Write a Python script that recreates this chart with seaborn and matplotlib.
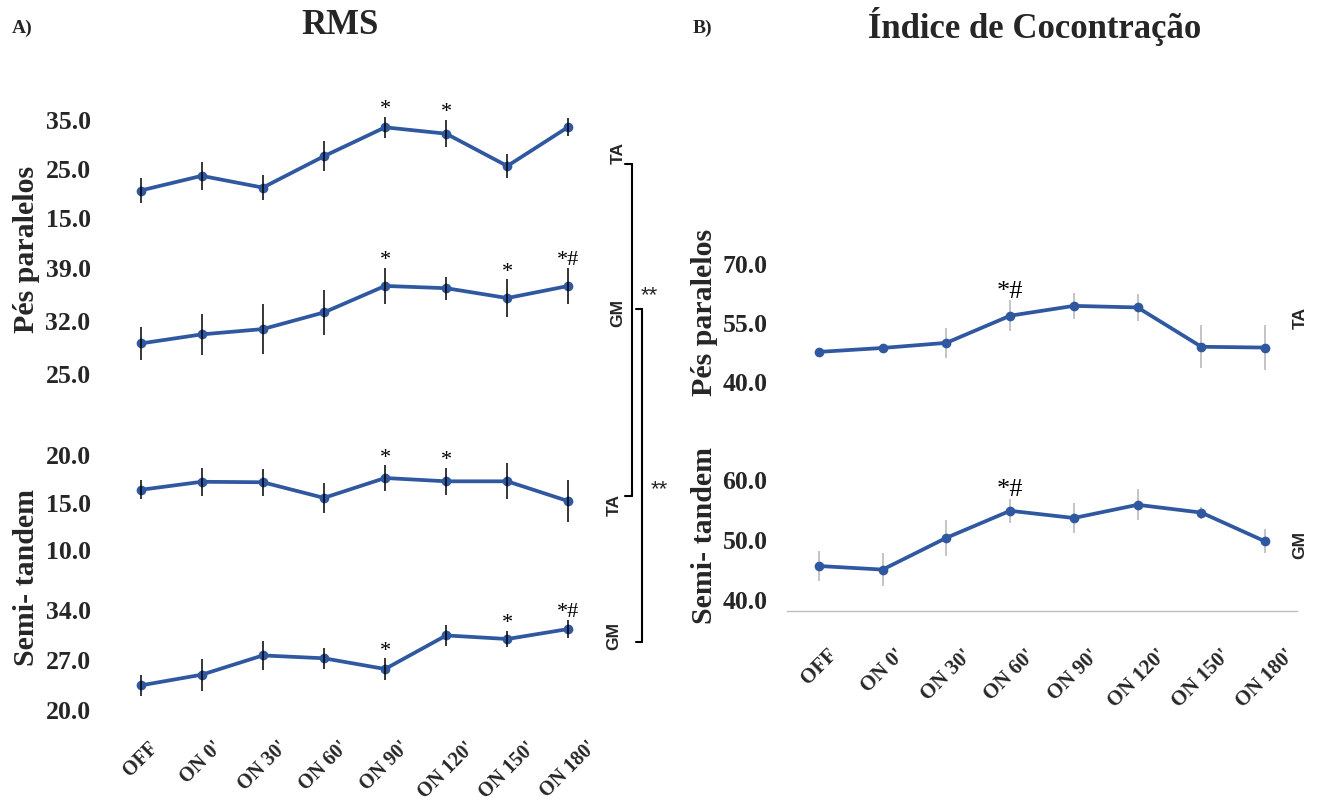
import numpy as np
import pandas as pd
import matplotlib
matplotlib.use("Agg")
import matplotlib.pyplot as plt
from matplotlib.lines import Line2D
import seaborn as sns

# ---------------- data ----------------
categories = ["OFF", "ON 0'", "ON 30'", "ON 60'", "ON 90'", "ON 120'", "ON 150'", "ON 180'"]

rms_pp_ta = [20.4, 23.4, 21.0, 27.4, 33.3, 32.0, 25.4, 33.4]
rms_pp_ta_err = [2.6, 2.8, 2.5, 3.1, 2.2, 2.8, 2.5, 1.9]
rms_pp_ta_marks = ["", "", "", "", "*", "*", "", ""]
rms_pp_ta_ticks = [15.0, 25.0, 35.0]

rms_pp_gm = [28.9, 30.1, 30.8, 33.0, 36.5, 36.2, 34.9, 36.5]
rms_pp_gm_err = [2.2, 2.7, 3.3, 3.0, 2.4, 1.5, 2.5, 2.4]
rms_pp_gm_marks = ["", "", "", "", "*", "", "*", "*#"]
rms_pp_gm_ticks = [25.0, 32.0, 39.0]

rms_st_ta = [16.25, 17.1, 17.05, 15.4, 17.5, 17.15, 17.15, 15.05]
rms_st_ta_err = [1.0, 1.45, 1.45, 1.6, 1.35, 1.45, 1.9, 2.2]
rms_st_ta_marks = ["", "", "", "", "*", "*", "", ""]
rms_st_ta_ticks = [10.0, 15.0, 20.0]

rms_st_gm = [23.3, 24.8, 27.5, 27.1, 25.6, 30.3, 29.8, 31.2]
rms_st_gm_err = [1.5, 2.25, 2.0, 1.5, 1.5, 1.45, 1.15, 1.25]
rms_st_gm_marks = ["", "", "", "", "*", "", "*", "*#"]
rms_st_gm_ticks = [20.0, 27.0, 34.0]

ci_pp_ta = [47.4, 48.4, 49.7, 56.6, 59.1, 58.7, 48.7, 48.5]
ci_pp_ta_err = [0.8, 0.8, 3.9, 3.9, 3.3, 3.4, 5.5, 5.8]
ci_pp_ta_marks = ["", "", "", "*#", "", "", "", ""]
ci_pp_ta_ticks = [40.0, 55.0, 70.0]

ci_st_gm = [45.5, 44.9, 50.2, 54.7, 53.5, 55.7, 54.4, 49.6]
ci_st_gm_err = [2.5, 2.75, 3.0, 2.0, 2.5, 2.6, 1.0, 2.0]
ci_st_gm_marks = ["", "", "", "*#", "", "", "", ""]
ci_st_gm_ticks = [40.0, 50.0, 60.0]

# ---------------- style ----------------
sns.set_style("white")
plt.rcParams["font.family"] = ["Liberation Serif", "DejaVu Serif"]

BLUE = "#3058A0"
W, H = 1320, 803
fig = plt.figure(figsize=(13.2, 8.03), dpi=100)
fig.patch.set_facecolor("white")


def fxy(x, y):
    return (x / W, 1 - y / H)


def make_ax(x0, x1, top_px, bot_px, cal):
    (v1, p1), (v2, p2) = cal
    k = (v2 - v1) / (p2 - p1)
    ytop = v1 + (top_px - p1) * k
    ybot = v1 + (bot_px - p1) * k
    ax = fig.add_axes([x0 / W, 1 - bot_px / H, (x1 - x0) / W, (bot_px - top_px) / H])
    ax.set_ylim(ybot, ytop)
    ax.set_xlim(-0.5, 7.5)
    ax.patch.set_alpha(0)
    for s in ax.spines.values():
        s.set_visible(False)
    return ax


def draw(ax, vals, errs, marks, ticks, ecolor, on_top, markfs):
    xs = list(range(len(categories)))
    df = pd.DataFrame({"x": xs, "y": vals})
    sns.lineplot(data=df, x="x", y="y", ax=ax, color=BLUE, lw=2.7, marker="o",
                 markersize=7, markeredgewidth=0, clip_on=False, zorder=3)
    ax.errorbar(xs, vals, yerr=errs, fmt="none", ecolor=ecolor, elinewidth=1.1,
                capsize=0, zorder=4 if on_top else 2)
    for i, m in enumerate(marks):
        if m:
            ax.annotate(m, xy=(i, vals[i] + errs[i]), xytext=(0, -1),
                        textcoords="offset points", ha="center", va="bottom",
                        fontsize=markfs, color="black")
    ax.set_xlabel("")
    ax.set_ylabel("")
    ax.set_yticks(ticks)
    ax.set_yticklabels([f"{t:.1f}" for t in ticks], fontsize=18.5, fontweight="bold")
    ax.tick_params(axis="y", length=0, pad=14)
    ax.set_xticks([])


# Panel A (RMS)
AX0, AX1 = 110, 599
a1 = make_ax(AX0, AX1, 95, 235, ((35.0, 120), (15.0, 218)))
draw(a1, rms_pp_ta, rms_pp_ta_err, rms_pp_ta_marks, rms_pp_ta_ticks, "black", True, 16)
a2 = make_ax(AX0, AX1, 250, 385, ((39.0, 268), (25.0, 374)))
draw(a2, rms_pp_gm, rms_pp_gm_err, rms_pp_gm_marks, rms_pp_gm_ticks, "black", True, 16)
a3 = make_ax(AX0, AX1, 440, 550, ((20.0, 457), (10.0, 562)))
draw(a3, rms_st_ta, rms_st_ta_err, rms_st_ta_marks, rms_st_ta_ticks, "black", True, 16)
a4 = make_ax(AX0, AX1, 595, 728, ((34.0, 610), (20.0, 710)))
draw(a4, rms_st_gm, rms_st_gm_err, rms_st_gm_marks, rms_st_gm_ticks, "black", True, 16)
a4.set_xticks(range(len(categories)))
a4.set_xticklabels(categories, rotation=45, ha="center", va="top", fontsize=14.5, fontweight="bold")
a4.tick_params(axis="x", length=0, pad=7)
a4.set_xticks([0, 2, 4, 5, 7], minor=True)
a4.tick_params(axis="x", which="minor", length=7, width=1, color="#C8C8C8", direction="out")

# Panel B (Indice de Cocontracao)
BX0, BX1 = 787, 1297
b1 = make_ax(BX0, BX1, 250, 400, ((70.0, 264), (40.0, 382)))
draw(b1, ci_pp_ta, ci_pp_ta_err, ci_pp_ta_marks, ci_pp_ta_ticks, "#B4B4B4", False, 19)
b2 = make_ax(BX0, BX1, 465, 612, ((60.0, 480), (40.0, 600)))
draw(b2, ci_st_gm, ci_st_gm_err, ci_st_gm_marks, ci_st_gm_ticks, "#B4B4B4", False, 19)
b2.spines["bottom"].set_visible(True)
b2.spines["bottom"].set_color("#BFBFBF")
b2.spines["bottom"].set_linewidth(1.0)
b2.set_xticks(range(len(categories)))
b2.set_xticklabels(categories, rotation=45, ha="center", va="top", fontsize=15, fontweight="bold")
b2.tick_params(axis="x", length=0, pad=24)
b2.set_xticks(np.arange(-0.5, 8.0, 1.0), minor=True)
b2.tick_params(axis="x", which="minor", length=5, width=1, color="#BFBFBF", direction="out")

# ---------------- texts ----------------
fig.text(*fxy(12, 28), "A)", fontsize=14, fontweight="bold", ha="left", va="center")
fig.text(*fxy(340, 25), "RMS", fontsize=25, fontweight="bold", ha="center", va="center")
fig.text(*fxy(693, 28), "B)", fontsize=14, fontweight="bold", ha="left", va="center")
fig.text(*fxy(1035, 27), "Índice de Cocontração", fontsize=25, fontweight="bold",
         ha="center", va="center")

for (x, y, s) in [(27, 249, "Pés paralelos"), (27, 578, "Semi- tandem"),
                  (705, 312, "Pés paralelos"), (705, 535, "Semi- tandem")]:
    fig.text(*fxy(x, y), s, rotation=90, fontsize=21.5, fontweight="bold",
             ha="center", va="center")

sans = ["Liberation Sans", "DejaVu Sans"]
for (x, y, s) in [(618, 153, "TA"), (618, 313, "GM"), (614, 505, "TA"), (614, 636, "GM"),
                  (1300, 318, "TA"), (1300, 545, "GM")]:
    fig.text(*fxy(x, y), s, rotation=90, fontsize=12.5, fontweight="bold",
             ha="center", va="center", family=sans)

# significance brackets
def seg(x1, y1, x2, y2):
    (a, b), (c, d) = fxy(x1, y1), fxy(x2, y2)
    fig.add_artist(Line2D([a, c], [b, d], transform=fig.transFigure, color="black", lw=1.5))

seg(625, 165, 632, 165); seg(632, 165, 632, 497); seg(625, 497, 632, 497)
seg(636, 310, 642, 310); seg(642, 310, 642, 643); seg(636, 643, 642, 643)
fig.text(*fxy(649, 296), "**", fontsize=16, ha="center", va="center", family=sans)
fig.text(*fxy(659, 490), "**", fontsize=16, ha="center", va="center", family=sans)

fig.savefig("out.png", dpi=100, facecolor="white")
